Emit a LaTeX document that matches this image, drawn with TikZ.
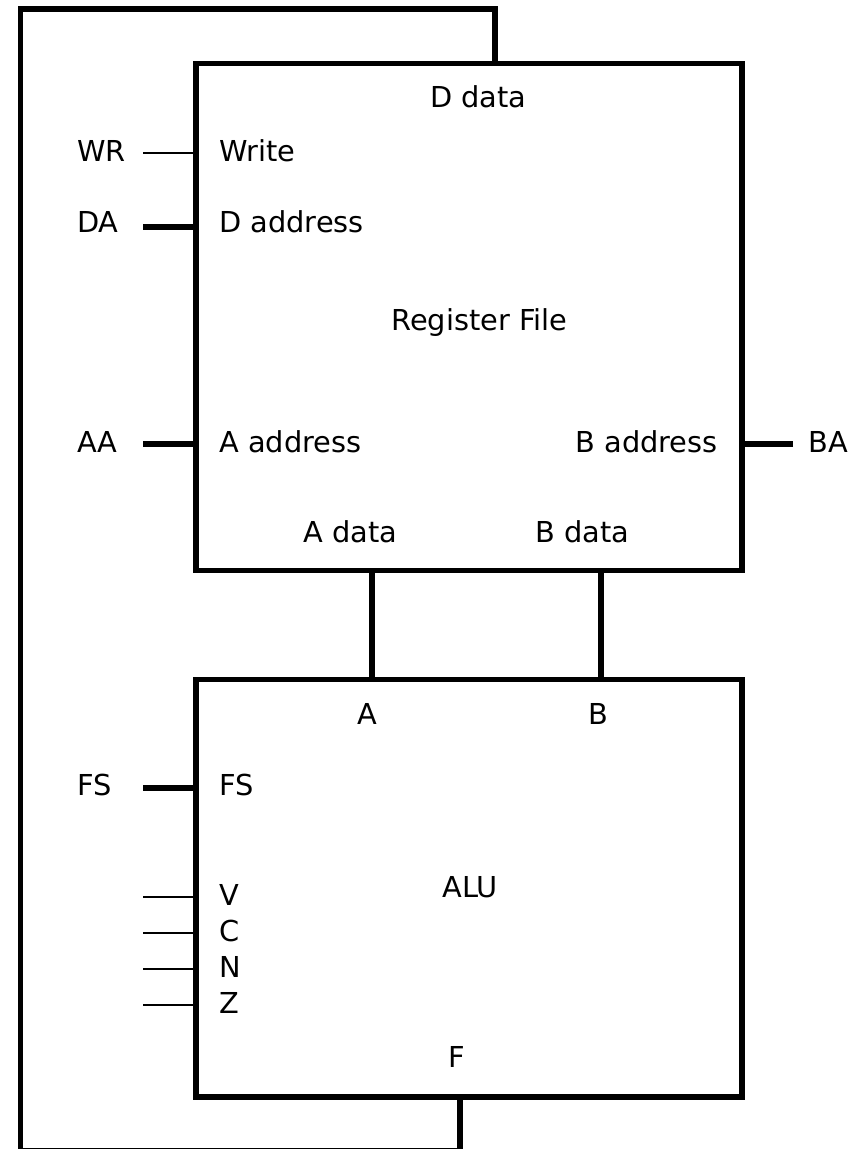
\documentclass[tikz,border=0pt]{standalone}
\usepackage{fontspec}
\setmainfont{DejaVu Sans}
\usetikzlibrary{positioning}

\begin{document}
\begin{tikzpicture}[x=0.025cm,y=-0.025cm,line join=miter,
      box/.style={draw,line width=3.9pt,minimum width=13.65cm,inner sep=0pt,outer sep=0pt},
      bus/.style={line width=3.9pt},
      wire/.style={line width=1.5pt},
      txt/.style={font=\fontsize{20.5}{24}\selectfont,inner sep=0pt,anchor=base west}]
    \useasboundingbox (0,0) rectangle (864,1149);
    % the two blocks
    \node[box,minimum height=12.67cm] (rf) at (469,317) {};
    \node[box,minimum height=10.44cm] (alu) at (469,888.25) {};
    \node[txt] (rfname) at (391,330) {Register File};
    \node[txt] (aluname) at (442,897) {ALU};
    % register file ports
    \node[txt] (ddata) at (430,108) {D data};
    \node[txt] (write) at (219,162) {Write};
    \node[txt] (daddr) at (219,232) {D address};
    \node[txt] (aaddr) at (219,452) {A address};
    \node[txt,anchor=base east] (baddr) at (718,452) {B address};
    \node[txt] (adata) at (303,542) {A data};
    \node[txt] (bdata) at (535,542) {B data};
    % alu ports
    \node[txt] (ain) at (357,724) {A};
    \node[txt] (bin) at (588,724) {B};
    \node[txt] (fsin) at (219,795) {FS};
    \node[txt] (fout) at (448,1067) {F};
    % control inputs
    \node[txt] (wrl) at (77,162) {WR};
    \node[txt] (dal) at (77,232) {DA};
    \node[txt] (aal) at (77,452) {AA};
    \node[txt] (bal) at (808,452) {BA};
    \node[txt] (fsl) at (77,795) {FS};
    \coordinate (wr) at (143,153);
    \coordinate (da) at (143,227);
    \coordinate (aa) at (143,444);
    \coordinate (ba) at (793,444);
    \coordinate (fs) at (143,788);
    \draw[wire] (wr) -- (wr -| rf.west);
    \draw[bus] (da) -- (da -| rf.west);
    \draw[bus] (aa) -- (aa -| rf.west);
    \draw[bus] (ba) -- (ba -| rf.east);
    \draw[bus] (fs) -- (fs -| alu.west);
    % status flags
    \foreach \f/\yy/\t in {v/897/V,c/933/C,n/969/N,z/1005/Z} {
      \coordinate (\f) at (143,\yy);
      \node[txt] (\f l) at (219,\yy+8) {\t};
      \draw[wire] (\f) -- (\f -| alu.west);
    }
    % data buses
    \coordinate (abus) at (372,0);
    \coordinate (bbus) at (601,0);
    \coordinate (fbus) at (460,0);
    \coordinate (dbus) at (495,0);
    \coordinate (loopsw) at (20.5,1150.5);
    \coordinate (loopnw) at (20.5,9);
    \draw[bus] (rf.south -| abus) -- (alu.north -| abus);
    \draw[bus] (rf.south -| bbus) -- (alu.north -| bbus);
    \draw[bus] (alu.south -| fbus) |- (loopsw) -- (loopnw) -| (rf.north -| dbus);
\end{tikzpicture}
\end{document}
